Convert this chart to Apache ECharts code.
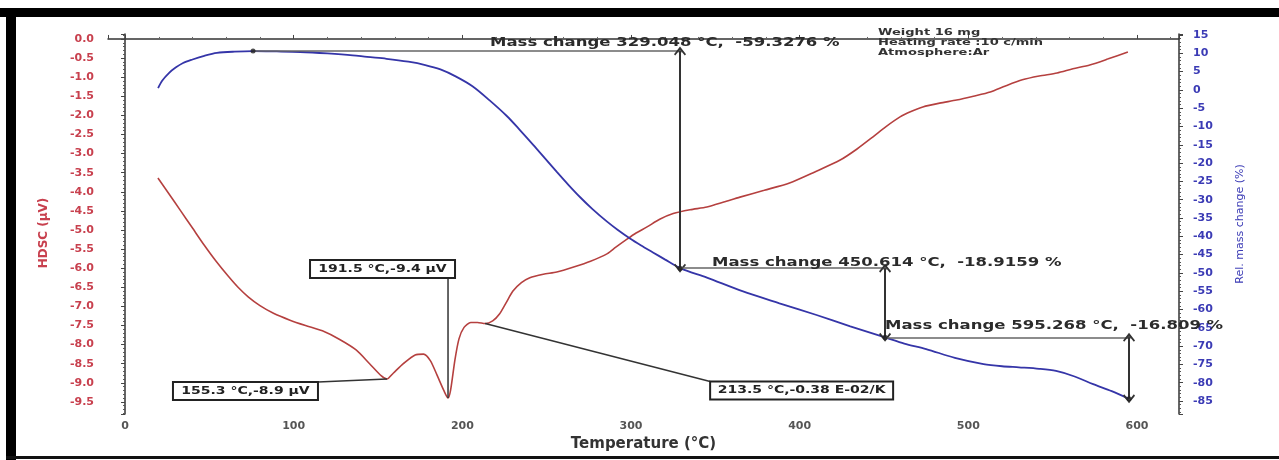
<!DOCTYPE html>
<html>
<head>
<meta charset="utf-8">
<script src="https://cdn.jsdelivr.net/npm/echarts@6/dist/echarts.min.js"></script>
<style>
  html, body { margin: 0; background: #fff; }
  #chart { width: 1279px; height: 460px; }
</style>
</head>
<body>
<div id="chart"></div>
<script>
// HDSC curve (red, left axis)
const dscTemp = [19.5, 26, 33, 40, 47, 54, 61, 67, 73, 80, 88, 97.8, 107, 117, 127, 137, 145, 152, 155.3,
  159, 165, 172, 177, 181, 185, 189, 191.5, 193, 195.6, 198, 201, 205, 209, 213.5, 218, 222, 226, 230, 235,
  240, 248, 256, 266, 276, 286, 291, 297, 303, 309.5, 317, 325, 335, 345, 355, 364.6, 379, 394, 409, 424,
  434, 443.5, 451, 459.5, 466, 473, 483, 493, 503, 513, 522, 532, 542, 552.6, 562, 572, 583, 594.6];
const dscValue = [-3.64, -4.05, -4.5, -4.95, -5.4, -5.82, -6.2, -6.5, -6.75, -6.98, -7.18, -7.36, -7.5, -7.64, -7.86, -8.14, -8.5, -8.82, -8.9,
  -8.75, -8.5, -8.27, -8.25, -8.42, -8.8, -9.2, -9.4, -9.2, -8.4, -7.85, -7.55, -7.42, -7.42, -7.45, -7.38, -7.2, -6.9, -6.6, -6.38,
  -6.25, -6.16, -6.1, -5.97, -5.82, -5.62, -5.45, -5.26, -5.08, -4.92, -4.72, -4.57, -4.47, -4.4, -4.27, -4.14, -3.96, -3.77, -3.48, -3.17,
  -2.88, -2.56, -2.3, -2.04, -1.9, -1.78, -1.68, -1.6, -1.5, -1.39, -1.23, -1.07, -0.97, -0.89, -0.78, -0.68, -0.52, -0.34];

// Relative mass change (blue, right axis)
const tgTemp = [19.6, 22, 26, 30, 34.4, 40, 47, 54.5, 65, 75.9, 90, 103.8, 120, 135, 143.5, 155, 168, 178, 187, 196,
  206, 216, 226.5, 234, 242, 249, 256, 263, 270, 277, 285.8, 292, 299.4, 306, 313, 320, 329.048, 345, 366, 388,
  410, 430, 450.614, 462, 475, 492, 509, 520, 530, 542, 552, 563, 574, 585, 595.268];
const tgValue = [0.5, 2.5, 4.6, 6.1, 7.35, 8.3, 9.3, 10.1, 10.45, 10.6, 10.5, 10.35, 9.95, 9.45, 9.0, 8.5, 7.7, 6.8, 5.6, 3.7,
  1.0, -2.8, -7.2, -10.9, -15.0, -18.7, -22.4, -26.0, -29.4, -32.5, -36.0, -38.2, -40.6, -42.5, -44.4, -46.3, -48.7, -51.3, -55, -58.3,
  -61.5, -64.6, -67.6, -69.3, -70.8, -73.2, -74.9, -75.5, -75.8, -76.2, -76.8, -78.3, -80.4, -82.3, -84.4];

// mass change steps
const massT = [75.9, 329.048, 450.614, 595.268];
const massV = [10.6, -48.7, -67.6, -84.4];
const massLabels = ['Mass change 329.048 °C,  -59.3276 %', 'Mass change 450.614 °C,  -18.9159 %', 'Mass change 595.268 °C,  -16.809 %'];

// DSC peak labels
const peakT = [155.3, 191.5, 213.5];
const peakV = [-8.9, -9.4, -7.45];
const peakLabels = ['155.3 °C,-8.9 µV', '191.5 °C,-9.4 µV', '213.5 °C,-0.38 E-02/K'];

const infoText = 'Weight 16 mg\nHeating rate :10 c/min\nAtmosphere:Ar';

const FONT = 'DejaVu Sans';
const RED = '#b5403f';
const BLUE = '#3535a8';
const chevron = 'path://M0,0L7,8L5.6,9.4L0,3.2L-5.6,9.4L-7,8Z';

const chart = echarts.init(document.getElementById('chart'));

const massLines = [];
for (let i = 0; i < 3; i++) {
  massLines.push([
    { coord: [massT[i], massV[i]], symbol: 'none' },
    { coord: [massT[i + 1], massV[i]], symbol: 'circle', symbolSize: 4, lineStyle: { color: '#666', width: 1.5 } }
  ]);
  massLines.push([
    { coord: [massT[i + 1], massV[i]], symbol: chevron, symbolSize: [12, 9], lineStyle: { color: '#333', width: 2 } },
    { coord: [massT[i + 1], massV[i + 1]], symbol: chevron, symbolSize: [12, 9] }
  ]);
}

const option = {
  animation: false,
  backgroundColor: '#fff',
  grid: { left: 108, right: 100, top: 34, bottom: 46, containLabel: false, outerBoundsMode: 'none' },
  xAxis: {
    type: 'value',
    min: -10.1,
    max: 624.9,
    minInterval: 100,
    maxInterval: 100,
    splitNumber: 7,
    axisLine: { lineStyle: { color: '#333', width: 1.5 } },
    axisTick: { inside: true, length: 4, lineStyle: { color: '#444' } },
    minorTick: { show: true, splitNumber: 5, length: 2, lineStyle: { color: '#666' } },
    splitLine: { show: false },
    axisLabel: { showMinLabel: false, showMaxLabel: false, color: '#555', fontFamily: FONT, fontWeight: 'bold', fontSize: 11, margin: 7 },
    name: 'Temperature (°C)',
    nameLocation: 'middle',
    nameGap: 20,
    nameTextStyle: { color: '#333', fontFamily: FONT, fontWeight: 'bold', fontSize: 15 }
  },
  yAxis: [
    {
      type: 'value',
      position: 'left',
      min: -9.817,
      max: 0.13,
      minInterval: 0.5,
      maxInterval: 0.5,
      splitNumber: 20,
      axisLine: { show: true, lineStyle: { color: '#333', width: 1.5 } },
      axisTick: { show: true, length: 4, lineStyle: { color: '#444' } },
      minorTick: { show: true, splitNumber: 5, length: 2, lineStyle: { color: '#555' } },
      splitLine: { show: false },
      axisLabel: {
        showMinLabel: false, showMaxLabel: false, margin: 14,
        color: '#c8404e', fontFamily: FONT, fontWeight: 'bold', fontSize: 11,
        formatter: v => v.toFixed(1)
      },
      name: 'HDSC (µV)',
      nameLocation: 'middle',
      nameRotate: 90,
      nameGap: 58,
      nameTextStyle: { color: '#c8404e', fontFamily: FONT, fontSize: 12, fontWeight: 'bold', padding: [0, 18, 0, 0] }
    },
    {
      type: 'value',
      position: 'right',
      min: -88.55,
      max: 15.27,
      minInterval: 5,
      maxInterval: 5,
      splitNumber: 21,
      axisLine: { show: true, lineStyle: { color: '#333', width: 1.5 } },
      axisTick: { show: true, length: 4, lineStyle: { color: '#444' } },
      minorTick: { show: true, splitNumber: 5, length: 2, lineStyle: { color: '#555' } },
      splitLine: { show: false },
      axisLabel: {
        showMinLabel: false, showMaxLabel: false, margin: 14,
        color: '#3b3bb5', fontFamily: FONT, fontWeight: 'bold', fontSize: 11
      },
      name: 'Rel. mass change (%)',
      nameLocation: 'middle',
      nameRotate: 90,
      nameGap: 56,
      nameTextStyle: { color: '#3b3bb5', fontFamily: FONT, fontSize: 11 }
    }
  ],
  series: [
    {
      name: 'HDSC',
      type: 'line',
      yAxisIndex: 0,
      showSymbol: false,
      smooth: 0.25,
      lineStyle: { color: RED, width: 1.6 },
      data: dscTemp.map((t, i) => [t, dscValue[i]])
    },
    {
      name: 'Rel. mass change',
      type: 'line',
      yAxisIndex: 1,
      showSymbol: false,
      smooth: 0.3,
      lineStyle: { color: BLUE, width: 1.8 },
      data: tgTemp.map((t, i) => [t, tgValue[i]]),
      markLine: {
        silent: true,
        animation: false,
        label: { show: false },
        symbol: 'none',
        lineStyle: { color: '#666', width: 1.5, type: 'solid' },
        data: massLines
      }
    },
    {
      type: 'scatter',
      yAxisIndex: 1,
      symbolSize: 5,
      itemStyle: { color: '#222' },
      z: 5,
      data: massT.map((t, i) => [t, massV[i]])
    }
  ]
};

chart.setOption(option);

// annotations, placed from the data points
const toPx = (t, v, yi) => chart.convertToPixel({ xAxisIndex: 0, yAxisIndex: yi }, [t, v]);
const massLayout = [[237, -8], [32, -6], [0, -12]];
const boxLayout = [
  { left: -214, top: 3, w: 145, h: 18, to: [-69, 3] },
  { left: -138, top: -138, w: 145, h: 18, to: [0, -120] },
  { left: 225, top: 58, w: 183, h: 18, to: [225, 58] }
];

const graphic = [
  { type: 'rect', shape: { x: 0, y: 8, width: 1279, height: 9 }, style: { fill: '#000' }, z: 100 },
  { type: 'rect', shape: { x: 6, y: 8, width: 10, height: 452 }, style: { fill: '#000' }, z: 100 },
  { type: 'rect', shape: { x: 6, y: 456, width: 1273, height: 3 }, style: { fill: '#111' }, z: 100 },
  {
    type: 'text', x: 878, y: 28, scaleX: 1.45, z: 20,
    style: { text: infoText, fill: '#333', font: 'bold 9px "DejaVu Sans"', lineHeight: 9.8, textAlign: 'left', align: 'left', textVerticalAlign: 'top', verticalAlign: 'top' }
  }
];

massLabels.forEach((txt, i) => {
  const p = toPx(massT[i], massV[i], 1);
  graphic.push({
    type: 'text', x: p[0] + massLayout[i][0], y: p[1] + massLayout[i][1], scaleX: 1.27, z: 20,
    style: { text: txt, fill: '#2b2b2b', font: 'bold 13px "DejaVu Sans"', textAlign: 'left', align: 'left', textVerticalAlign: 'middle', verticalAlign: 'middle' }
  });
});

peakLabels.forEach((txt, i) => {
  const p = toPx(peakT[i], peakV[i], 0);
  const b = boxLayout[i];
  graphic.push({
    type: 'line', z: 15,
    shape: { x1: p[0], y1: p[1], x2: p[0] + b.to[0], y2: p[1] + b.to[1] },
    style: { stroke: '#333', lineWidth: 1.5 }
  });
  graphic.push({
    type: 'rect', z: 16,
    shape: { x: p[0] + b.left, y: p[1] + b.top, width: b.w, height: b.h },
    style: { fill: '#fff', stroke: '#222', lineWidth: 2 }
  });
  graphic.push({
    type: 'text', z: 17, x: p[0] + b.left + b.w / 2, y: p[1] + b.top + b.h / 2, scaleX: 1.4,
    style: { text: txt, fill: '#222', font: 'bold 10px "DejaVu Sans"', textAlign: 'center', align: 'center', textVerticalAlign: 'middle', verticalAlign: 'middle' }
  });
});

chart.setOption({ graphic: graphic });
</script>
</body>
</html>
